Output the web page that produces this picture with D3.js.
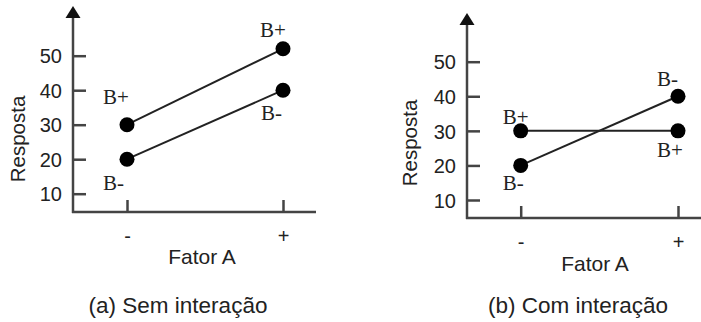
<!DOCTYPE html>
<html>
<head>
<meta charset="utf-8">
<script src="https://cdn.jsdelivr.net/npm/d3@7"></script>
<style>
  body { margin: 0; background: #fff; }
  svg { display: block; }
  .sans { font-family: Arial, "Liberation Sans", sans-serif; fill: #222; }
  .serif { font-family: "Times New Roman", "Liberation Serif", serif; fill: #222; }
</style>
</head>
<body>
<div id="chart"></div>
<script>
// factor A levels and y ticks
var levels = ['-', '+'];
var yTicks = [10, 20, 30, 40, 50];
// (a) no interaction
var semBPlus = [30, 52];
var semBMinus = [20, 40];
// (b) with interaction
var comBPlus = [30, 30];
var comBMinus = [20, 40];
var xTitle = 'Fator A', yTitle = 'Resposta';
var captions = ['(a) Sem interação', '(b) Com interação'];

var svg = d3.select('#chart').append('svg')
  .attr('width', 701)
  .attr('height', 322);

// layout of each panel (pixels), plus label offsets relative to their points
var panels = [
  {
    bPlus: semBPlus, bMinus: semBMinus, caption: captions[0],
    axisX: 73, axisY: 212, top: 6, right: 316,
    x: [127, 283], y: [193.7, 55.7],
    xTitle: [202, 264], yTitle: [18, 139], cap: [178, 313],
    labels: [
      {s: 'B+', i: 0, dx: -24, dy: -21}, {s: 'B-', i: 0, dx: -24, dy: 31},
      {s: 'B+', i: 1, dx: -23, dy: -12}, {s: 'B-', i: 1, dx: -22, dy: 30}
    ]
  },
  {
    bPlus: comBPlus, bMinus: comBMinus, caption: captions[1],
    axisX: 467, axisY: 218, top: 13, right: 701,
    x: [520.7, 678], y: [200, 61.7],
    xTitle: [595, 271], yTitle: [410, 143], cap: [578, 313],
    labels: [
      {s: 'B+', i: 0, dx: -18, dy: -7}, {s: 'B-', i: 0, dx: -18, dy: 25},
      {s: 'B-', i: 1, dx: -21, dy: -10}, {s: 'B+', i: 1, dx: -21, dy: 26}
    ]
  }
];

function drawPanel(p) {
  var g = svg.append('g');
  var x = d3.scalePoint().domain(levels).range(p.x);
  var y = d3.scaleLinear().domain([10, 50]).range(p.y);

  // axes lines + arrow
  g.append('line')
    .attr('x1', p.axisX).attr('x2', p.axisX)
    .attr('y1', p.top + 10).attr('y2', p.axisY + 1)
    .style('stroke', '#444').style('stroke-width', 2.5);
  g.append('line')
    .attr('x1', p.axisX - 1).attr('x2', p.right)
    .attr('y1', p.axisY).attr('y2', p.axisY)
    .style('stroke', '#444').style('stroke-width', 2.5);
  g.append('path')
    .attr('d', 'M' + p.axisX + ',' + p.top + 'l-7.5,12h15z')
    .style('fill', '#111');

  // y axis
  var ya = g.append('g')
    .attr('transform', 'translate(' + p.axisX + ',0)')
    .call(d3.axisLeft(y).tickValues(yTicks).tickSize(-13).tickPadding(11));
  ya.select('.domain').remove();
  ya.selectAll('line').style('stroke', '#444').style('stroke-width', 2.5);
  ya.selectAll('text').attr('class', 'sans').style('font-size', '20px')
    .attr('fill', null).attr('dy', '0.36em');

  // x axis
  var xa = g.append('g')
    .attr('transform', 'translate(0,' + p.axisY + ')')
    .call(d3.axisBottom(x).tickSize(-12));
  xa.select('.domain').remove();
  xa.selectAll('line').style('stroke', '#444').style('stroke-width', 2.5);
  xa.selectAll('text').attr('class', 'sans').style('font-size', '20px')
    .attr('fill', null).attr('y', 31).attr('dy', 0);

  // titles
  g.append('text').attr('class', 'sans')
    .attr('transform', 'translate(' + p.yTitle[0] + ',' + p.yTitle[1] + ') rotate(-90)')
    .attr('text-anchor', 'middle').attr('dy', '0.35em')
    .style('font-size', '20.5px').text(yTitle);
  g.append('text').attr('class', 'sans')
    .attr('x', p.xTitle[0]).attr('y', p.xTitle[1])
    .attr('text-anchor', 'middle').style('font-size', '21px').text(xTitle);
  g.append('text').attr('class', 'sans')
    .attr('x', p.cap[0]).attr('y', p.cap[1])
    .attr('text-anchor', 'middle').style('font-size', '22.5px').text(p.caption);

  // series
  var series = {'B+': p.bPlus, 'B-': p.bMinus};
  var line = d3.line()
    .x(function(d, i) { return x(levels[i]); })
    .y(function(d) { return y(d); });
  Object.keys(series).forEach(function(k) {
    g.append('path').datum(series[k])
      .attr('d', line)
      .style('fill', 'none').style('stroke', '#222').style('stroke-width', 2);
    g.selectAll(null).data(series[k]).enter().append('circle')
      .attr('cx', function(d, i) { return x(levels[i]); })
      .attr('cy', function(d) { return y(d); })
      .attr('r', 7.5)
      .style('fill', '#000');
  });

  // B+ / B- labels
  g.selectAll(null).data(p.labels).enter().append('text')
    .attr('class', 'serif')
    .attr('x', function(d) { return x(levels[d.i]) + d.dx; })
    .attr('y', function(d) { return y(series[d.s][d.i]) + d.dy; })
    .style('font-size', '21px')
    .text(function(d) { return d.s; });
}

panels.forEach(drawPanel);
</script>
</body>
</html>
